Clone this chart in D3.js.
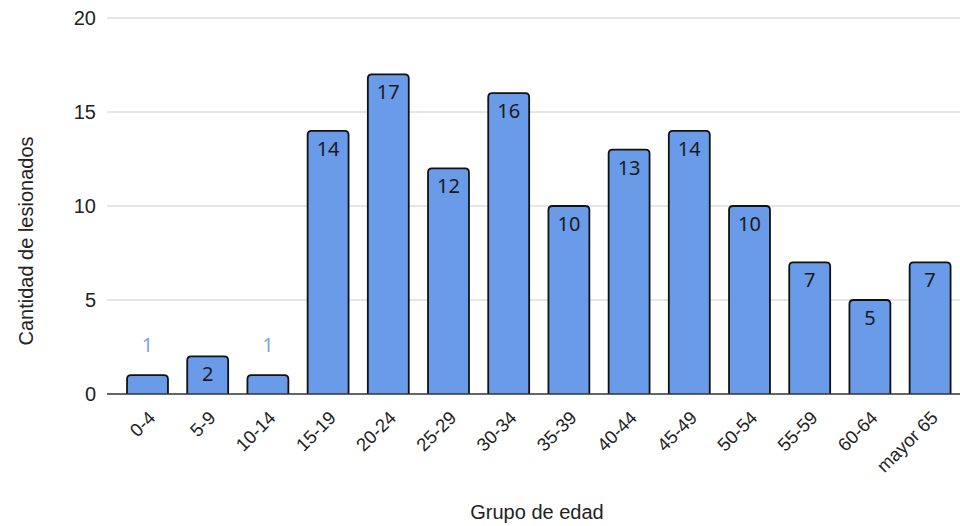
<!DOCTYPE html>
<html>
<head>
<meta charset="utf-8">
<script src="https://cdn.jsdelivr.net/npm/d3@7"></script>
<style>
  body { margin: 0; background: #fff; }
  svg { display: block; }
</style>
</head>
<body>
<div id="chart-area"></div>
<script>
// Datos
const grupos = ["0-4", "5-9", "10-14", "15-19", "20-24", "25-29", "30-34", "35-39",
                "40-44", "45-49", "50-54", "55-59", "60-64", "mayor 65"];
const lesionados = [1, 2, 1, 14, 17, 12, 16, 10, 13, 14, 10, 7, 5, 7];
const yTicks = [0, 5, 10, 15, 20];

const width = 960;
const height = 526;
const margin = { top: 18, right: 0, bottom: 132, left: 107 };
const innerW = width - margin.left - margin.right;
const innerH = height - margin.top - margin.bottom;
const fuente = "'Liberation Sans', Arial, sans-serif";

const svg = d3.select("#chart-area")
    .append("svg")
    .attr("width", width)
    .attr("height", height);

const g = svg.append("g")
    .attr("transform", `translate(${margin.left}, ${margin.top})`);

// Escalas
const x = d3.scaleBand()
    .domain(grupos)
    .range([10.4, innerW + 0.2])
    .paddingInner(0.32)
    .paddingOuter(0.16);

const y = d3.scaleLinear()
    .domain([0, 20])
    .range([innerH, 0]);

// Líneas de cuadrícula
g.selectAll(".grid")
    .data(yTicks.filter(d => d > 0))
    .enter()
    .append("line")
    .attr("class", "grid")
    .attr("x1", 0)
    .attr("x2", innerW)
    .attr("y1", d => y(d))
    .attr("y2", d => y(d))
    .attr("stroke", "#cccccc")
    .attr("stroke-width", 1);

// Etiquetas eje Y
const leftAxis = d3.axisLeft(y).tickValues(yTicks).tickSize(0).tickPadding(11);
g.append("g")
    .attr("class", "left axis")
    .call(leftAxis)
    .call(a => a.select(".domain").remove())
    .selectAll("text")
    .style("font-family", fuente)
    .style("font-size", "20px")
    .attr("fill", "#222");

// Rectángulos (esquinas superiores redondeadas)
const r = 4;
function barPath(d) {
    const x0 = x(d.grupo), x1 = x0 + x.bandwidth();
    const yt = y(d.valor), yb = y(0);
    return `M${x0},${yb} L${x0},${yt + r} Q${x0},${yt} ${x0 + r},${yt} ` +
           `L${x1 - r},${yt} Q${x1},${yt} ${x1},${yt + r} L${x1},${yb}`;
}
const datos = grupos.map((gr, i) => ({ grupo: gr, valor: lesionados[i] }));

g.selectAll(".bar-fill")
    .data(datos)
    .enter()
    .append("path")
    .attr("class", "bar-fill")
    .attr("d", d => barPath(d) + "Z")
    .attr("fill", "#6a9be9")
    .attr("stroke", "none");

g.selectAll(".bar-line")
    .data(datos)
    .enter()
    .append("path")
    .attr("class", "bar-line")
    .attr("d", barPath)
    .attr("fill", "none")
    .attr("stroke", "#111")
    .attr("stroke-width", 1.8);

// Línea base
g.append("line")
    .attr("x1", 0)
    .attr("x2", innerW)
    .attr("y1", y(0))
    .attr("y2", y(0))
    .attr("stroke", "#333")
    .attr("stroke-width", 1.3);

// Etiquetas de valores
g.selectAll(".valor")
    .data(datos)
    .enter()
    .append("text")
    .attr("class", "valor")
    .attr("x", d => x(d.grupo) + x.bandwidth() / 2)
    .attr("y", d => d.valor >= 2 ? y(d.valor) + 25 : y(d.valor) - 23)
    .attr("text-anchor", "middle")
    .style("font-family", "'Noto Sans', Roboto, sans-serif")
    .style("font-size", "20px")
    .attr("fill", d => d.valor >= 2 ? "#1a1a1a" : "#78a6ee")
    .text(d => d.valor);

// Etiquetas eje X
g.selectAll(".xlabel")
    .data(grupos)
    .enter()
    .append("text")
    .attr("class", "xlabel")
    .attr("transform", d => `translate(${x(d) + x.bandwidth() / 2 + 9}, ${innerH + 25}) rotate(-45)`)
    .attr("text-anchor", "end")
    .style("font-family", fuente)
    .style("font-size", "18.5px")
    .attr("fill", "#222")
    .text(d => d);

// Título eje X
svg.append("text")
    .attr("x", 537)
    .attr("y", 519)
    .attr("text-anchor", "middle")
    .style("font-family", fuente)
    .style("font-size", "20px")
    .attr("fill", "#222")
    .text("Grupo de edad");

// Título eje Y
svg.append("text")
    .attr("transform", "rotate(-90)")
    .attr("x", -241)
    .attr("y", 33)
    .attr("text-anchor", "middle")
    .style("font-family", fuente)
    .style("font-size", "20px")
    .attr("fill", "#222")
    .text("Cantidad de lesionados");
</script>
</body>
</html>
